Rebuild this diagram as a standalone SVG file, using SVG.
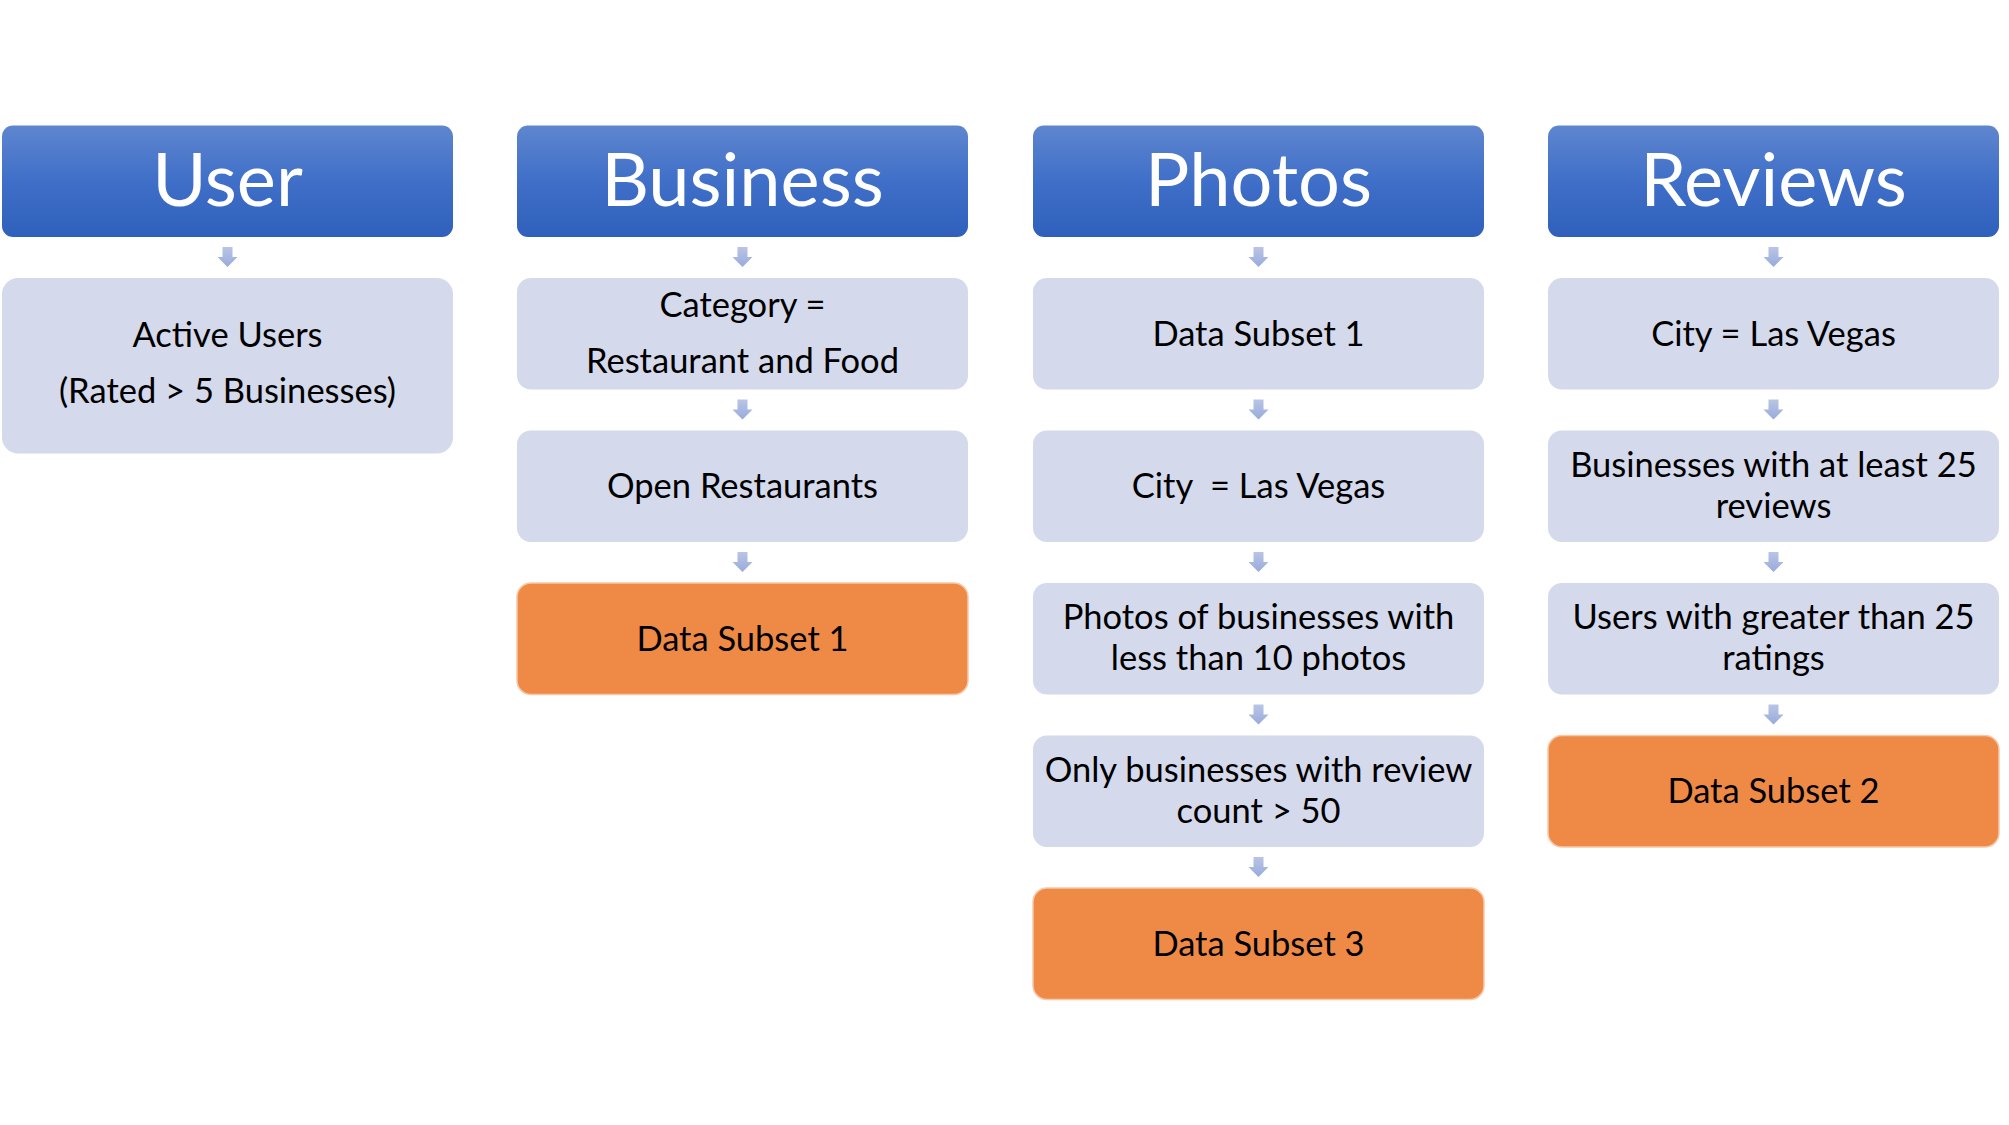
<svg xmlns="http://www.w3.org/2000/svg" width="2009" height="1125" viewBox="0 0 2009 1125">
<defs>
<linearGradient id="hg" x1="0" y1="0" x2="0" y2="1">
<stop offset="0" stop-color="#5f86cf"/>
<stop offset="0.5" stop-color="#3f6fc8"/>
<stop offset="1" stop-color="#2f60bb"/>
</linearGradient>
<linearGradient id="ag" x1="0" y1="0" x2="0" y2="1">
<stop offset="0" stop-color="#b9c5e6"/>
<stop offset="1" stop-color="#98abdb"/>
</linearGradient>
<path id="arr" d="M-5,0 H5 V10 H10 L0,20 L-10,10 H-5 Z" fill="url(#ag)"/>
</defs>
<style>
.hd{fill:url(#hg)}
.bx{fill:#d4d9ec}
.ob{fill:#ef8a46;stroke:#f6c9a8;stroke-width:1.5}
.ht{font-family:Lato,"Open Sans",sans-serif;font-size:74px;fill:#ffffff;text-anchor:middle}
.t{font-family:Lato,"Open Sans",sans-serif;font-size:34.5px;fill:#000000;text-anchor:middle}
</style>
<rect width="2009" height="1125" fill="#ffffff"/>
<g id="connectors">
<use href="#arr" x="227.5" y="247"/>
<use href="#arr" x="742.5" y="247"/>
<use href="#arr" x="742.5" y="399.5"/>
<use href="#arr" x="742.5" y="552"/>
<use href="#arr" x="1258.5" y="247"/>
<use href="#arr" x="1258.5" y="399.5"/>
<use href="#arr" x="1258.5" y="552"/>
<use href="#arr" x="1258.5" y="704.5"/>
<use href="#arr" x="1258.5" y="857"/>
<use href="#arr" x="1773.5" y="247"/>
<use href="#arr" x="1773.5" y="399.5"/>
<use href="#arr" x="1773.5" y="552"/>
<use href="#arr" x="1773.5" y="704.5"/>
</g>
<g id="user-header"><rect class="hd" x="2" y="125.5" width="451" height="111.5" rx="11"/><text class="ht" x="227.5" y="206">User</text></g>
<g id="active-users"><rect class="bx" x="2" y="278" width="451" height="175.5" rx="16"/><text class="t" x="227.5" y="347">Active Users</text><text class="t" x="227.5" y="403">(Rated &gt; 5 Businesses)</text></g>
<g id="business-header"><rect class="hd" x="517" y="125.5" width="451" height="111.5" rx="11"/><text class="ht" x="742.5" y="206">Business</text></g>
<g id="category"><rect class="bx" x="517" y="278" width="451" height="111.5" rx="14"/><text class="t" x="742.5" y="317">Category =</text><text class="t" x="742.5" y="373">Restaurant and Food</text></g>
<g id="open-restaurants"><rect class="bx" x="517" y="430.5" width="451" height="111.5" rx="14"/><text class="t" x="742.5" y="498">Open Restaurants</text></g>
<g id="data-subset-1"><rect class="ob" x="517" y="583" width="451" height="111.5" rx="14"/><text class="t" x="742.5" y="651">Data Subset 1</text></g>
<g id="photos-header"><rect class="hd" x="1033" y="125.5" width="451" height="111.5" rx="11"/><text class="ht" x="1258.5" y="206">Photos</text></g>
<g id="photos-subset1"><rect class="bx" x="1033" y="278" width="451" height="111.5" rx="14"/><text class="t" x="1258.5" y="346">Data Subset 1</text></g>
<g id="photos-city"><rect class="bx" x="1033" y="430.5" width="451" height="111.5" rx="14"/><text class="t" x="1258.5" y="498" xml:space="preserve">City  = Las Vegas</text></g>
<g id="photos-less10"><rect class="bx" x="1033" y="583" width="451" height="111.5" rx="14"/><text class="t" x="1258.5" y="629">Photos of businesses with</text><text class="t" x="1258.5" y="670">less than 10 photos</text></g>
<g id="photos-review50"><rect class="bx" x="1033" y="735.5" width="451" height="111.5" rx="14"/><text class="t" x="1258.5" y="782">Only businesses with review</text><text class="t" x="1258.5" y="823">count &gt; 50</text></g>
<g id="data-subset-3"><rect class="ob" x="1033" y="888" width="451" height="111.5" rx="14"/><text class="t" x="1258.5" y="956">Data Subset 3</text></g>
<g id="reviews-header"><rect class="hd" x="1548" y="125.5" width="451" height="111.5" rx="11"/><text class="ht" x="1773.5" y="206">Reviews</text></g>
<g id="reviews-city"><rect class="bx" x="1548" y="278" width="451" height="111.5" rx="14"/><text class="t" x="1773.5" y="346">City = Las Vegas</text></g>
<g id="reviews-business25"><rect class="bx" x="1548" y="430.5" width="451" height="111.5" rx="14"/><text class="t" x="1773.5" y="477">Businesses with at least 25</text><text class="t" x="1773.5" y="518">reviews</text></g>
<g id="reviews-users25"><rect class="bx" x="1548" y="583" width="451" height="111.5" rx="14"/><text class="t" x="1773.5" y="629">Users with greater than 25</text><text class="t" x="1773.5" y="670">ratings</text></g>
<g id="data-subset-2"><rect class="ob" x="1548" y="735.5" width="451" height="111.5" rx="14"/><text class="t" x="1773.5" y="803">Data Subset 2</text></g>
</svg>
